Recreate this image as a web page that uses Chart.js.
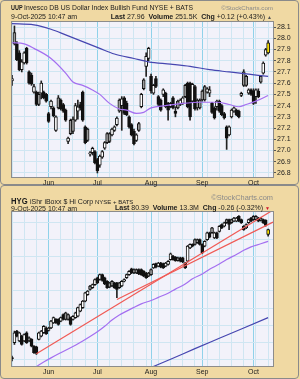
<!DOCTYPE html>
<html>
<head>
<meta charset="utf-8">
<title>UUP / HYG</title>
<script src="https://cdn.jsdelivr.net/npm/chart.js@4.4.1/dist/chart.umd.min.js"></script>
<style>
  html, body { margin: 0; padding: 0; }
  body { width: 300px; height: 379px; position: relative; overflow: hidden;
         background: #f0d9a3; font-family: "Liberation Sans", Arial, sans-serif; color: #1c1c1c; }
  .frame { position: absolute; left: 0; width: 299px; border: 1px solid #8a8a8a; border-radius: 4px; box-sizing: border-box; }
  .txt { position: absolute; white-space: nowrap; line-height: 1; z-index: 2; }
  .sym { font-weight: bold; transform-origin: left center; }
  .gray { color: #8a8a8a; }
  canvas { position: absolute; left: 0; z-index: 1; }
</style>
</head>
<body>
<div class="frame" style="top:0;height:185px"></div>
<div class="frame" style="top:185px;height:194px"></div>

<div class="txt sym" style="left:11px;top:4px;font-size:7.8px;transform:scaleX(.7)">UUP</div>
<div class="txt" style="left:24px;top:5px;font-size:6.8px">Invesco DB US Dollar Index Bullish Fund NYSE + BATS</div>
<div class="txt gray" style="right:27px;top:5px;font-size:6.2px">©StockCharts.com</div>
<div class="txt" style="left:11px;top:13px;font-size:7px">9-Oct-2025 10:47 am</div>
<div class="txt" style="right:28px;top:13px;font-size:7px"><b>Last</b> 27.96 &nbsp;<b>Volume</b> 251.5K &nbsp;<b>Chg</b> +0.12 (+0.43%) <span style="font-size:5px;color:#555">▲</span></div>

<div class="txt sym" style="left:11px;top:197px;font-size:9px;transform:scaleX(.85)">HYG</div>
<div class="txt" style="left:30px;top:198px;font-size:7px">iShr iBoxx $ Hi Corp <span style="font-size:6px">NYSE + BATS</span></div>
<div class="txt gray" style="right:27px;top:194px;font-size:7.4px">©StockCharts.com</div>
<div class="txt" style="left:11px;top:205px;font-size:7px">9-Oct-2025 10:47 am</div>
<div class="txt" style="right:30px;top:204px;font-size:7px"><b>Last</b> 80.39 &nbsp;<b>Volume</b> 13.3M &nbsp;<b>Chg</b> -0.26 (-0.32%) <span style="font-size:5px;color:#d0102a">▼</span></div>

<canvas id="uupChart" width="300" height="189" style="top:0"></canvas>
<canvas id="hygChart" width="300" height="193" style="top:185px"></canvas>

<script>
// trading days shown on the chart (10/10 and 10/13 are the empty room on the right)
const mayDays = [9,12,13,14,15,16,19,20,21,22,23,27,28,29,30];
const junDays = [2,3,4,5,6,9,10,11,12,13,16,17,18,20,23,24,25,26,27,30];
const julDays = [1,2,3,7,8,9,10,11,14,15,16,17,18,21,22,23,24,25,28,29,30,31];
const augDays = [1,4,5,6,7,8,11,12,13,14,15,18,19,20,21,22,25,26,27,28,29];
const sepDays = [2,3,4,5,8,9,10,11,12,15,16,17,18,19,22,23,24,25,26,29,30];
const octDays = [1,2,3,6,7,8,9,10,13];
const monthNames = ['May','Jun','Jul','Aug','Sep','Oct'];

// UUP daily candles
const uupOpen = [27.62,28.05,27.95,27.87,27.72,27.78,27.91,27.70,27.67,27.52, 27.52,27.50,27.51,27.52,27.50,27.33,27.39,27.38,27.18,27.47,
  27.45,27.41,27.36,27.08,27.27,27.28,27.27,27.35,27.41,27.52, 27.21,27.19,26.97,26.98,26.99,26.92,26.87,26.94,27.02,27.15,
  27.15,27.14,27.18,27.23,27.45,27.40,27.47,27.42,27.30,27.23, 27.17,27.09,27.24,27.39,27.63,27.75,27.82,27.66,27.51,27.64,
  27.48,27.45,27.50,27.51,27.42,27.39,27.47,27.35,27.44,27.41, 27.42,27.58,27.60,27.60,27.44,27.57,27.45,27.45,27.53,27.57,
  27.52,27.51,27.42,27.38,27.39,27.44,27.40,27.33,27.21,27.14, 27.30,27.35,27.36,27.35,27.49,27.70,27.66,27.51,27.54,27.53,
  27.48,27.53,27.66,27.69,27.85,27.87];
const uupHigh = [27.67,28.11,27.97,27.89,27.81,27.88,27.92,27.71,27.69,27.59, 27.53,27.52,27.62,27.53,27.51,27.34,27.45,27.39,27.31,27.49,
  27.46,27.42,27.37,27.12,27.28,27.30,27.42,27.45,27.43,27.53, 27.22,27.20,26.99,27.03,27.00,26.93,26.96,27.00,27.08,27.16,
  27.16,27.20,27.22,27.30,27.46,27.48,27.48,27.44,27.31,27.24, 27.19,27.15,27.25,27.51,27.64,27.87,27.92,27.68,27.59,27.66,
  27.49,27.46,27.55,27.52,27.43,27.43,27.48,27.39,27.45,27.46, 27.48,27.59,27.61,27.61,27.60,27.58,27.46,27.46,27.54,27.58,
  27.56,27.57,27.43,27.39,27.45,27.45,27.41,27.34,27.22,27.22, 27.37,27.39,27.37,27.36,27.52,27.72,27.67,27.55,27.55,27.55,
  27.55,27.55,27.67,27.79,27.91,27.98];
const uupLow = [27.58,27.94,27.80,27.71,27.70,27.77,27.77,27.59,27.58,27.51, 27.40,27.40,27.46,27.46,27.43,27.25,27.37,27.30,27.17,27.37,
  27.36,27.34,27.26,27.06,27.14,27.15,27.26,27.28,27.36,27.26, 27.06,27.08,26.95,26.96,26.88,26.80,26.85,26.93,27.01,27.06,
  27.07,27.13,27.17,27.22,27.34,27.18,27.32,27.31,27.20,27.13, 27.05,27.08,27.17,27.38,27.54,27.66,27.80,27.51,27.50,27.56,
  27.40,27.35,27.48,27.38,27.27,27.38,27.37,27.30,27.37,27.40, 27.41,27.47,27.38,27.27,27.43,27.36,27.36,27.37,27.44,27.44,
  27.51,27.48,27.33,27.28,27.36,27.34,27.31,27.28,27.01,27.13, 27.29,27.34,27.31,27.29,27.48,27.57,27.57,27.50,27.49,27.41,
  27.42,27.47,27.60,27.68,27.84,27.86];
const uupClose = [27.64,27.95,27.81,27.72,27.79,27.87,27.78,27.60,27.59,27.57, 27.41,27.41,27.60,27.47,27.44,27.26,27.44,27.31,27.30,27.38,
  27.37,27.35,27.27,27.11,27.15,27.17,27.40,27.39,27.38,27.27, 27.07,27.09,26.98,27.02,26.89,26.82,26.95,26.99,27.07,27.07,
  27.08,27.19,27.21,27.29,27.35,27.46,27.33,27.32,27.21,27.14, 27.06,27.14,27.18,27.50,27.55,27.84,27.91,27.53,27.58,27.57,
  27.41,27.36,27.54,27.39,27.36,27.42,27.38,27.33,27.38,27.45, 27.47,27.48,27.39,27.30,27.59,27.37,27.38,27.38,27.45,27.45,
  27.55,27.54,27.34,27.29,27.44,27.35,27.32,27.29,27.11,27.21, 27.36,27.38,27.32,27.30,27.51,27.58,27.58,27.54,27.50,27.42,
  27.54,27.48,27.61,27.78,27.90,27.96];
const uupMa50 = [['5/9',27.96],['5/16',27.95],['5/22',27.91],['6/3',27.82],['6/11',27.69],['6/16',27.61],['6/23',27.58],
  ['6/27',27.54],['7/2',27.50],['7/9',27.42],['7/15',27.37],['7/18',27.36],['7/24',27.33],['7/29',27.34],['8/1',27.38],
  ['8/11',27.40],['8/20',27.42],['8/29',27.43],['9/10',27.43],['9/17',27.41],['9/23',27.39],['9/26',27.41],['10/2',27.44],['10/9',27.49]];
const uupMa200 = [['5/9',28.13],['5/22',28.12],['6/3',28.08],['6/11',28.03],['6/23',27.97],['7/2',27.91],['7/11',27.86],
  ['7/23',27.82],['7/31',27.79],['8/13',27.77],['8/25',27.75],['9/5',27.72],['9/17',27.70],['9/29',27.68],['10/9',27.66]];

// HYG daily candles
const hygOpen = [76.80,77.24,77.58,77.29,77.43,77.29,77.53,77.38,77.34,77.14, 77.12,77.34,77.43,77.53,77.67,77.60,77.67,77.82,77.92,77.92,
  77.87,78.06,78.11,78.06,77.97,77.92,77.97,78.01,78.16,78.26, 78.45,78.64,78.89,78.84,78.93,79.13,79.08,79.22,79.13,79.03,
  78.98,79.03,78.98,78.98,78.98,78.89,79.03,79.13,79.22,79.39, 79.37,79.37,79.37,79.37,79.32,79.27,79.27,79.37,79.42,79.54,
  79.47,79.56,79.54,79.47,79.52,79.66,79.76,79.73,79.71,79.71, 79.71,79.56,79.61,80.00,80.10,80.24,80.24,80.24,80.10,80.05,
  80.24,80.44,80.58,80.29,80.44,80.48,80.68,80.63,80.82,80.82, 80.82,80.78,80.78,80.92,80.82,80.63,80.58,80.73,80.87,80.92,
  80.92,80.87,80.87,80.82,80.80,80.53];
const hygHigh = [76.85,77.58,77.60,77.55,77.46,77.50,77.56,77.41,77.36,77.16, 77.14,77.55,77.60,77.74,77.70,77.69,77.89,77.99,77.94,77.94,
  77.99,78.08,78.13,78.08,77.99,78.03,78.13,78.28,78.37,78.47, 78.71,78.76,78.91,78.95,79.10,79.15,79.24,79.24,79.15,79.05,
  79.00,79.05,79.00,79.00,79.00,79.05,79.10,79.24,79.34,79.41, 79.39,79.39,79.39,79.39,79.34,79.29,79.29,79.39,79.54,79.56,
  79.58,79.58,79.56,79.58,79.63,79.85,79.78,79.75,79.73,79.73, 79.73,79.58,80.07,80.12,80.12,80.26,80.26,80.26,80.12,80.21,
  80.46,80.46,80.60,80.46,80.46,80.65,80.70,80.75,80.84,80.84, 80.84,80.89,80.89,80.94,80.84,80.65,80.70,80.84,80.89,80.94,
  80.94,80.89,80.89,80.84,80.82,80.55];
const hygLow = [76.71,77.19,77.41,77.27,77.17,77.27,77.22,77.27,77.12,76.93, 76.90,77.32,77.41,77.51,77.48,77.58,77.65,77.80,77.80,77.75,
  77.85,77.90,77.90,77.90,77.75,77.90,77.95,77.99,78.14,78.24, 78.43,78.62,78.77,78.82,78.91,78.96,79.06,79.03,78.93,78.82,
  78.84,78.87,78.82,78.55,78.82,78.87,79.01,79.11,79.20,79.25, 79.25,79.25,79.22,79.20,79.16,79.11,79.16,79.20,79.40,79.42,
  79.45,79.42,79.40,79.45,79.50,79.64,79.64,79.61,79.61,79.59, 79.57,79.40,79.59,79.98,80.03,80.08,80.13,80.08,79.83,80.03,
  80.22,80.29,80.42,80.27,80.27,80.46,80.56,80.61,80.71,80.53, 80.71,80.76,80.76,80.76,80.71,80.51,80.56,80.71,80.76,80.80,
  80.80,80.76,80.78,80.71,80.63,80.34];
const hygClose = [76.78,77.53,77.43,77.53,77.19,77.48,77.24,77.29,77.14,76.95, 76.93,77.53,77.58,77.72,77.50,77.67,77.87,77.97,77.82,77.77,
  77.97,77.92,77.92,77.92,77.77,78.01,78.11,78.26,78.35,78.45, 78.69,78.74,78.79,78.93,79.08,78.98,79.22,79.05,78.95,78.84,
  78.86,78.89,78.84,78.79,78.84,79.03,79.08,79.22,79.32,79.27, 79.27,79.27,79.24,79.22,79.18,79.13,79.18,79.22,79.52,79.44,
  79.56,79.44,79.42,79.56,79.61,79.83,79.66,79.63,79.63,79.61, 79.59,79.42,80.05,80.10,80.05,80.10,80.15,80.10,79.85,80.19,
  80.44,80.31,80.44,80.44,80.29,80.63,80.58,80.73,80.73,80.68, 80.73,80.87,80.87,80.78,80.73,80.53,80.68,80.82,80.78,80.82,
  80.82,80.78,80.80,80.73,80.65,80.39];
const hygMa50 = [['5/23',76.55],['5/29',76.68],['6/3',76.80],['6/9',76.95],['6/12',77.06],['6/17',77.17],['6/23',77.29],
  ['6/26',77.42],['7/1',77.56],['7/7',77.72],['7/10',77.90],['7/15',78.05],['7/18',78.16],['7/23',78.27],['7/28',78.37],
  ['8/1',78.47],['8/6',78.56],['8/12',78.68],['8/15',78.80],['8/21',78.95],['8/26',79.10],['9/2',79.24],['9/5',79.38],
  ['9/11',79.53],['9/16',79.66],['9/22',79.81],['9/25',79.93],['9/30',80.03],['10/6',80.12],['10/9',80.19]];
const hygMa200 = [['8/1',76.52],['8/13',76.76],['8/27',77.07],['9/11',77.37],['9/25',77.67],['10/9',77.97]];
const hygTrendA = [['5/23',76.92],['10/13',81.10]];
const hygTrendB = [['7/14',78.50],['10/13',80.75]];

const dates = [mayDays, junDays, julDays, augDays, sepDays, octDays]
  .flatMap((days, m) => days.map(d => `${m + 5}/${d}`));
const monthTicks = dates.map((d, i) =>
  i > 0 && d.split('/')[0] !== dates[i - 1].split('/')[0] ? monthNames[+d.split('/')[0] - 5] : '');

Chart.defaults.font.family = '"Liberation Sans", Arial, sans-serif';
Chart.defaults.font.size = 7;
Chart.defaults.color = '#1c1c1c';

const plotFrame = {
  id: 'plotFrame',
  beforeDraw(chart) {
    const { ctx, chartArea: a } = chart;
    ctx.save();
    ctx.fillStyle = '#f2f2fa';
    ctx.fillRect(a.left, a.top, a.width, a.height);
    ctx.restore();
  },
  afterDraw(chart) {
    const { ctx, chartArea: a } = chart;
    ctx.save();
    ctx.strokeStyle = '#8c8c8c';
    ctx.lineWidth = 1;
    ctx.strokeRect(Math.round(a.left) - 0.5, Math.round(a.top) - 0.5, Math.round(a.width) + 1, Math.round(a.height) + 1);
    ctx.restore();
  }
};

function candleSets(o, h, l, c) {
  const last = c.length - 1;
  const fill = c.map((v, i) => {
    if (i === last) return '#ffe600';
    if (v >= o[i]) return '#ffffff';
    return i > 0 && v >= c[i - 1] ? '#9a9a9a' : '#111111';
  });
  return [
    { type: 'bar', data: l.map((v, i) => [v, h[i]]), backgroundColor: '#222',
      barThickness: 1, grouped: false, order: 3 },
    { type: 'bar', data: o.map((v, i) => [Math.min(v, c[i]), Math.max(v, c[i])]),
      backgroundColor: fill, borderColor: '#111', borderWidth: 1, borderSkipped: false,
      barThickness: 3, minBarLength: 1, grouped: false, order: 2 }
  ];
}

function lineSet(points, color, smooth) {
  return {
    type: 'line', data: points.map(([x, y]) => ({ x, y })),
    borderColor: color, borderWidth: 1.2, pointRadius: 0,
    cubicInterpolationMode: smooth ? 'monotone' : 'default', tension: 0, order: 0
  };
}

function makeChart(id, sets, yMin, yMax, step, labelEvery, padTop) {
  const isLabel = v => Math.abs(v / labelEvery - Math.round(v / labelEvery)) < 1e-6;
  return new Chart(document.getElementById(id), {
    type: 'bar',
    data: { labels: dates, datasets: sets },
    options: {
      responsive: false,
      animation: false,
      events: [],
      layout: { padding: { left: 12, top: padTop, right: 0, bottom: 0 } },
      plugins: { legend: { display: false }, tooltip: { enabled: false } },
      scales: {
        x: {
          type: 'category', offset: false,
          grid: {
            offset: false, drawTicks: false,
            color: ctx => monthTicks[ctx.index] ? '#8fd2ea' : (ctx.index % 5 === 0 ? '#cfe6f2' : 'rgba(0,0,0,0)')
          },
          border: { display: false },
          ticks: { autoSkip: false, maxRotation: 0, padding: 2, callback: (v, i) => monthTicks[i] },
          afterFit: s => { s.height = 12; }
        },
        y: {
          position: 'right', min: yMin, max: yMax,
          grid: { color: '#cfe6f2', tickLength: 3,
                  tickColor: ctx => ctx.tick && isLabel(ctx.tick.value) ? '#555' : 'rgba(0,0,0,0)' },
          border: { display: false },
          ticks: { stepSize: step, includeBounds: false, padding: 1,
                   callback: v => isLabel(v) ? v.toFixed(1) : '' },
          afterFit: s => { s.width = 27; }
        }
      }
    },
    plugins: [plotFrame]
  });
}

makeChart('uupChart', [
  lineSet(uupMa200, '#4646b0', true),
  lineSet(uupMa50, '#a46ff0', true),
  ...candleSets(uupOpen, uupHigh, uupLow, uupClose)
], 26.764, 28.145, 0.1, 0.1, 22);

makeChart('hygChart', [
  lineSet(hygTrendA, '#f05a55', false),
  lineSet(hygTrendB, '#f05a55', false),
  lineSet(hygMa200, '#4646b0', true),
  lineSet(hygMa50, '#a46ff0', true),
  ...candleSets(hygOpen, hygHigh, hygLow, hygClose)
], 76.564, 81.044, 0.25, 0.5, 27);
</script>
</body>
</html>
